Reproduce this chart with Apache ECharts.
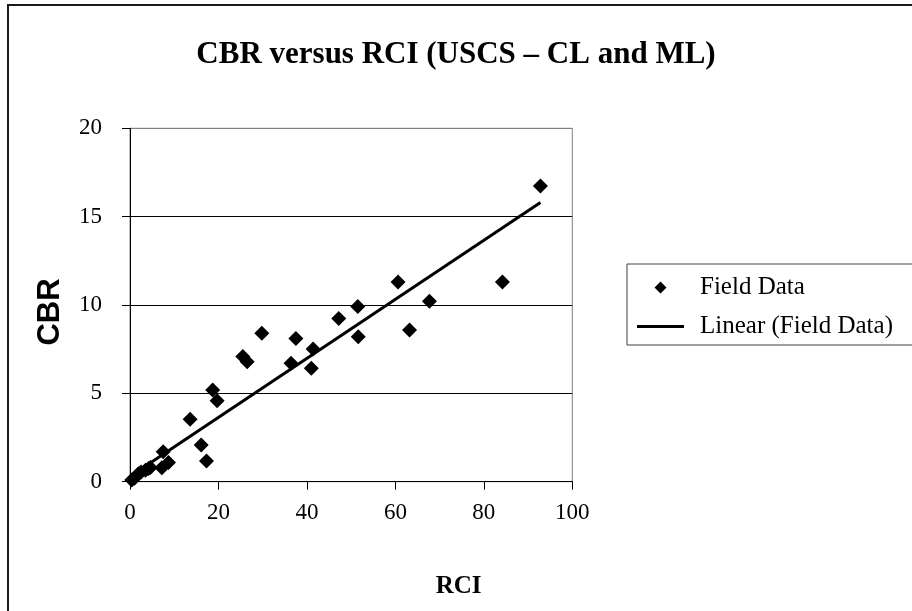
<!DOCTYPE html>
<html>
<head>
<meta charset="utf-8">
<script src="https://cdn.jsdelivr.net/npm/echarts@6/dist/echarts.min.js"></script>
<style>
html,body{margin:0;padding:0;background:#fff;}
#chart{width:912px;height:611px;}
</style>
</head>
<body>
<div id="chart"></div>
<script>
// Field data (RCI, CBR)
var rciValues = [92.8, 84.2, 60.6, 67.7, 51.5, 47.2, 51.6, 63.2, 29.8, 37.5, 41.4, 36.4, 41.0, 25.5, 26.5, 18.7, 19.7, 13.6, 16.1, 17.3, 7.5, 7.2, 8.7, 0.4, 1.0, 1.9, 2.5, 3.5, 4.2, 4.6];
var cbrValues = [16.74, 11.30, 11.30, 10.21, 9.92, 9.23, 8.21, 8.58, 8.40, 8.11, 7.51, 6.70, 6.42, 7.08, 6.79, 5.19, 4.58, 3.53, 2.08, 1.17, 1.70, 0.79, 1.08, 0.10, 0.20, 0.45, 0.55, 0.65, 0.75, 0.80];
// Linear trendline endpoints (RCI, CBR)
var trendRci = [0.4, 92.8];
var trendCbr = [0.37, 15.80];

var titleText = 'CBR versus RCI (USCS \u2013 CL and ML)';
var xName = 'RCI';
var yName = 'CBR';
var seriesName = 'Field Data';
var trendName = 'Linear (Field Data)';

var scatterData = rciValues.map(function (x, i) { return [x, cbrValues[i]]; });
var trendData = trendRci.map(function (x, i) { return [x, trendCbr[i]]; });

var serif = '"Liberation Serif", "Times New Roman", serif';
var sans = '"Liberation Sans", Arial, sans-serif';

// legend icons drawn inside a 47x13 box (tiny corner specks keep the box size)
var diamondIcon = 'path://M0,0L0.01,0L0.01,0.01ZM47,13L46.99,13L46.99,12.99ZM23.5,0.5L29.5,6.5L23.5,12.5L17.5,6.5Z';
var lineIcon = 'path://M0,0L0.01,0L0.01,0.01ZM47,13L46.99,13L46.99,12.99ZM0,5H47V8H0Z';

var chart = echarts.init(document.getElementById('chart'), null, {renderer: 'canvas'});
chart.setOption({
  animation: false,
  backgroundColor: '#fff',
  title: {
    text: titleText,
    left: 'center',
    top: 34,
    textStyle: {fontFamily: serif, fontWeight: 'bold', fontSize: 31, color: '#000'}
  },
  graphic: [{
    type: 'rect',
    shape: {x: 8, y: 5, width: 1000, height: 1000},
    style: {fill: 'none', stroke: '#1a1a1a', lineWidth: 2},
    silent: true
  }],
  legend: {
    orient: 'vertical',
    left: 627,
    top: 264,
    padding: [11, 30, 6, 10],
    itemGap: 14,
    itemWidth: 47,
    itemHeight: 13,
    borderColor: '#404040',
    borderWidth: 1,
    textStyle: {fontFamily: serif, fontSize: 25, color: '#000', padding: [0, 0, 0, 11]},
    data: [
      {name: seriesName, icon: diamondIcon, itemStyle: {color: '#000', opacity: 1}},
      {name: trendName, icon: lineIcon, itemStyle: {color: '#000', opacity: 1}}
    ]
  },
  grid: {
    left: 130, right: 339.7, top: 128.3, bottom: 129.3,
    show: true, borderColor: '#808080', borderWidth: 1, backgroundColor: 'transparent'
  },
  xAxis: {
    type: 'value', min: 0, max: 100, interval: 20,
    name: xName, nameLocation: 'middle', nameGap: 92,
    nameTextStyle: {fontFamily: serif, fontWeight: 'bold', fontSize: 25, color: '#000', padding: [0, 0, 0, 215]},
    axisLine: {show: true, onZero: false, lineStyle: {color: '#000', width: 1}},
    axisTick: {show: true, inside: false, length: 8, lineStyle: {color: '#000'}},
    axisLabel: {fontFamily: serif, fontSize: 23, color: '#000', margin: 20},
    splitLine: {show: false}
  },
  yAxis: {
    type: 'value', min: 0, max: 20, interval: 5,
    name: yName, nameLocation: 'middle', nameGap: 64, nameRotate: 90,
    nameTextStyle: {fontFamily: sans, fontWeight: 'bold', fontSize: 31, color: '#000', padding: [0, 14, 0, 0]},
    axisLine: {show: true, onZero: false, lineStyle: {color: '#000', width: 1}},
    axisTick: {show: true, inside: false, length: 8, lineStyle: {color: '#000'}},
    axisLabel: {fontFamily: serif, fontSize: 23, color: '#000', margin: 28, padding: [0, 0, 8, 0]},
    splitLine: {show: true, lineStyle: {color: ['#000', '#000', '#000', '#000', '#808080'], width: 1}}
  },
  series: [
    {
      name: seriesName,
      type: 'scatter',
      data: scatterData,
      symbol: 'diamond',
      symbolSize: 15,
      itemStyle: {color: '#000', opacity: 1},
      z: 3
    },
    {
      name: trendName,
      type: 'line',
      data: trendData,
      showSymbol: false,
      symbol: 'none',
      lineStyle: {color: '#000', width: 3},
      itemStyle: {color: '#000'},
      z: 2
    }
  ]
});
</script>
</body>
</html>
